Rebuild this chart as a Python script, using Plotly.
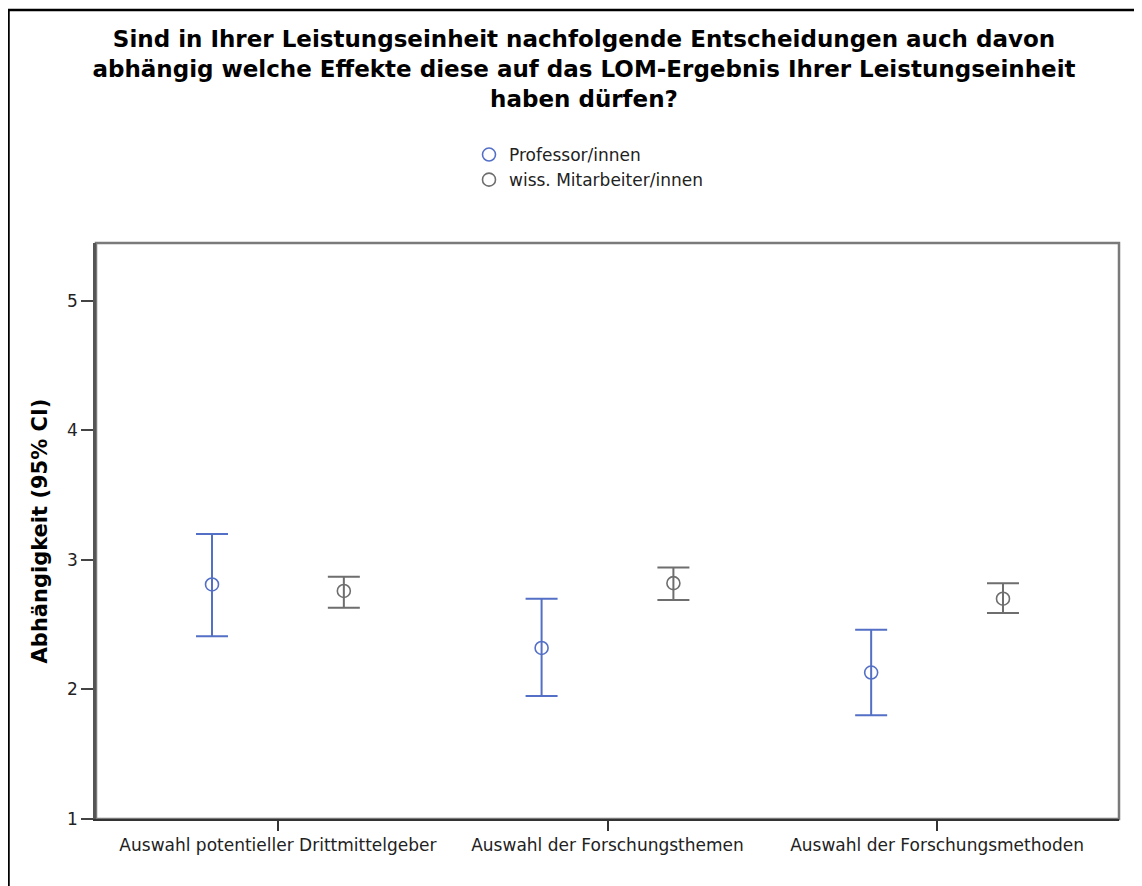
import plotly.graph_objects as go

categories = ["Auswahl potentieller Drittmittelgeber",
              "Auswahl der Forschungsthemen",
              "Auswahl der Forschungsmethoden"]
groups = ["Professor/innen", "wiss. Mitarbeiter/innen"]

prof_mean = [2.81, 2.32, 2.13]
prof_low = [2.41, 1.95, 1.80]
prof_high = [3.20, 2.70, 2.46]

wiss_mean = [2.76, 2.82, 2.70]
wiss_low = [2.63, 2.69, 2.59]
wiss_high = [2.87, 2.94, 2.82]

y_ticks = [1, 2, 3, 4, 5]

title_lines = [
    "Sind in Ihrer Leistungseinheit nachfolgende Entscheidungen auch davon",
    "abhängig welche Effekte diese auf das LOM-Ergebnis Ihrer Leistungseinheit",
    "haben dürfen?",
]
y_title = "Abhängigkeit (95% CI)"

# page offset of the plotly div (default body margin)
OFF = 8
W, H = 1142 - OFF, 886 - OFF
# plot area in page pixels
L, R, T, B = 96 - OFF, 1119 - OFF, 243 - OFF, 819 - OFF


def px_x(page_px):
    return (page_px - OFF - L) / (R - L)


def px_y(page_py):
    return (B - (page_py - OFF)) / (B - T)


blue = "#5470c6"
gray = "#6e6e6e"
font_family = "DejaVu Sans, Liberation Sans, Arial, sans-serif"

fig = go.Figure()
series = [
    (groups[0], prof_mean, prof_low, prof_high, blue, -0.2),
    (groups[1], wiss_mean, wiss_low, wiss_high, gray, 0.2),
]
for name, m, lo, hi, col, off in series:
    xs = [i + 1 + off for i in range(len(categories))]
    fig.add_trace(go.Scatter(
        x=xs, y=m, mode="markers", name=name,
        marker=dict(symbol="circle-open", size=13, color=col,
                    line=dict(width=1.6, color=col)),
        error_y=dict(type="data", symmetric=False,
                     array=[h - v for h, v in zip(hi, m)],
                     arrayminus=[v - l for v, l in zip(m, lo)],
                     color=col, thickness=2, width=16),
        hoverinfo="skip",
    ))

fig.update_layout(
    width=W, height=H,
    margin=dict(l=L, r=W - R, t=T, b=H - B, pad=0),
    paper_bgcolor="white", plot_bgcolor="white",
    font=dict(family=font_family, color="#222222", size=16),
    title=dict(
        text="<b>" + "<br>".join(title_lines) + "</b>",
        x=(584 - OFF) / W, xref="container", xanchor="center",
        y=1 - (47 - OFF) / H, yref="container", yanchor="middle",
        font=dict(size=23, color="#000000", family=font_family),
    ),
    showlegend=True,
    legend=dict(
        x=px_x(469), xanchor="left",
        y=px_y(137), yanchor="top",
        orientation="v",
        font=dict(size=17, color="#222222", family=font_family),
        bgcolor="rgba(0,0,0,0)",
        itemwidth=30,
    ),
    xaxis=dict(
        range=[0.448, 3.552],
        tickmode="array", tickvals=[1, 2, 3], ticktext=categories,
        ticks="outside", ticklen=10, tickwidth=1.5, tickcolor="#333333",
        showline=True, linecolor="#333333", linewidth=2,
        showgrid=False, zeroline=False,
        tickfont=dict(size=17, color="#222222"),
    ),
    yaxis=dict(
        range=[1, 5.445],
        tickmode="array", tickvals=y_ticks, ticktext=[str(v) for v in y_ticks],
        ticks="outside", ticklen=12, tickwidth=1.5, tickcolor="#444444",
        showline=True, linecolor="#555555", linewidth=2.5,
        showgrid=False, zeroline=False,
        tickfont=dict(size=17, color="#222222"),
        title=dict(text="<b>" + y_title + "</b>",
                   font=dict(size=21, color="#000000"), standoff=14),
    ),
    shapes=[
        dict(type="rect", xref="paper", yref="paper", x0=0, x1=1, y0=0, y1=1,
             line=dict(color="#7a7a7a", width=2.5), layer="below"),
        dict(type="rect", xref="paper", yref="paper",
             x0=px_x(8.5), x1=px_x(1140), y0=px_y(10), y1=px_y(920),
             line=dict(color="#000000", width=2.5)),
    ],
)

fig.write_html("out.html")
